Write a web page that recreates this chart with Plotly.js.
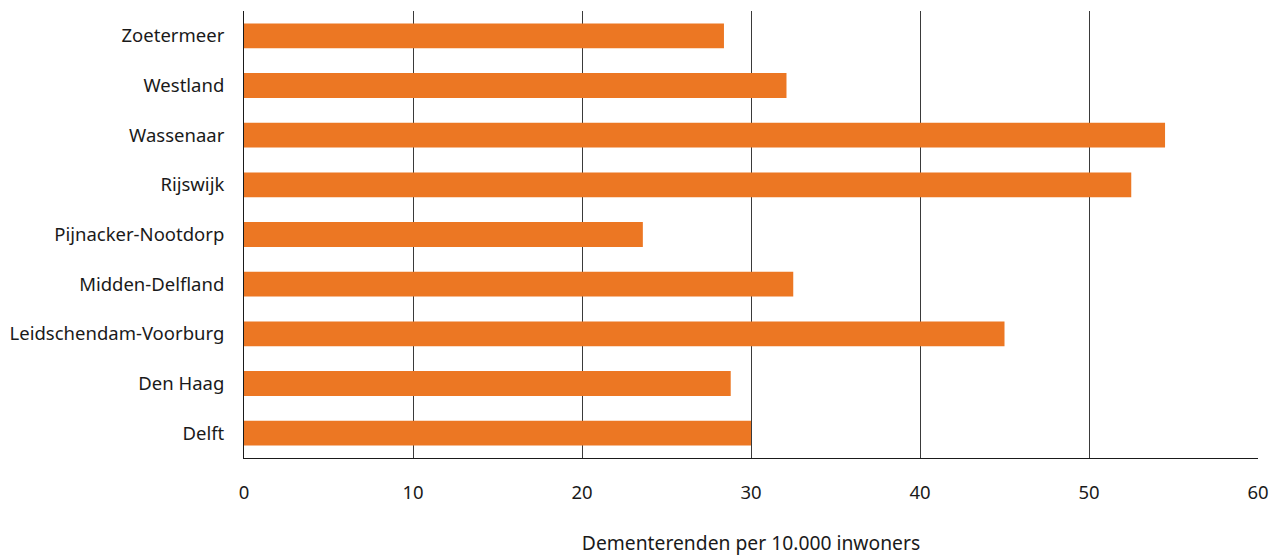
<!DOCTYPE html>
<html>
<head>
<meta charset="utf-8">
<script src="https://cdn.plot.ly/plotly-3.0.1.min.js"></script>
<style>html,body{margin:0;padding:0;background:#fff;}#chart{width:1279px;height:556px;}</style>
</head>
<body>
<div id="chart"></div>
<script>
const gemeenten = ["Delft", "Den Haag", "Leidschendam-Voorburg", "Midden-Delfland", "Pijnacker-Nootdorp", "Rijswijk", "Wassenaar", "Westland", "Zoetermeer"];
const dementerenden = [30.0, 28.8, 45.0, 32.5, 23.6, 52.5, 54.5, 32.1, 28.4];
const xTicks = [0, 10, 20, 30, 40, 50, 60];
const xTitle = "Dementerenden per 10.000 inwoners";

const font = {family: "Noto Sans, Open Sans, sans-serif", size: 18.5, color: "#1a1a1a"};
const titleFont = {family: "Noto Sans, Open Sans, sans-serif", size: 19.3, color: "#1a1a1a"};

Plotly.newPlot("chart", [{
  type: "bar",
  orientation: "h",
  y: gemeenten,
  x: dementerenden,
  marker: {color: "#EC7723"},
  width: 0.5,
  hoverinfo: "x+y"
}], {
  width: 1279, height: 556,
  margin: {l: 244, r: 21, t: 11, b: 98},
  paper_bgcolor: "#fff", plot_bgcolor: "#fff",
  font: font,
  showlegend: false,
  xaxis: {
    range: [0, 60],
    tickvals: xTicks,
    ticktext: xTicks.map(String),
    showgrid: true, gridcolor: "#3a3a3a", gridwidth: 1,
    zeroline: false,
    showline: true, linecolor: "#1a1a1a", linewidth: 1,
    ticks: "", ticklabelstandoff: 18,
    title: {text: xTitle, font: titleFont, standoff: 36}
  },
  yaxis: {
    showgrid: false, zeroline: false,
    showline: true, linecolor: "#1a1a1a", linewidth: 1,
    ticks: "", ticklabelstandoff: 15,
    categoryorder: "array", categoryarray: gemeenten
  }
}, {displayModeBar: false});
</script>
</body>
</html>
